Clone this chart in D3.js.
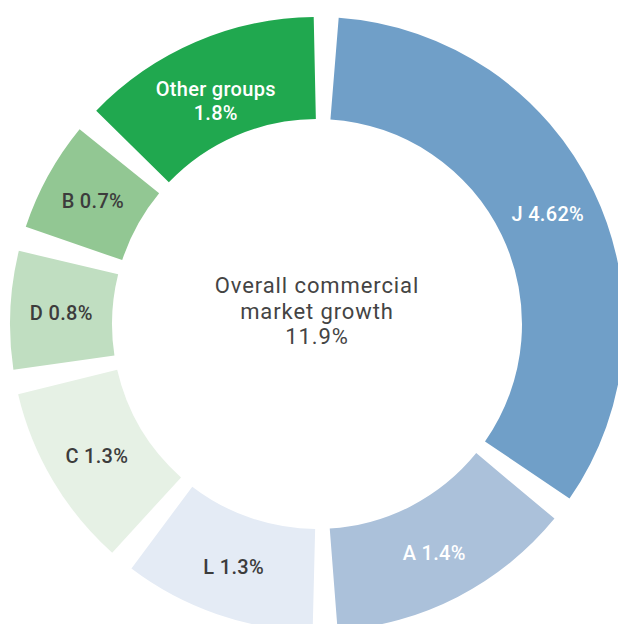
<!DOCTYPE html>
<html>
<head>
<meta charset="utf-8">
<script src="https://cdn.jsdelivr.net/npm/d3@7"></script>
<style>
  body { margin: 0; background: #fff; }
  svg { display: block; font-family: Roboto, "Noto Sans", sans-serif; }
</style>
</head>
<body>
<div id="chart-area"></div>
<script>
var groups = ["J", "A", "L", "C", "D", "B", "Other groups"];
var growth = [4.62, 1.4, 1.3, 1.3, 0.8, 0.7, 1.8];
var shares = [34.8, 14.3, 11.4, 11.0, 7.5, 7.1, 13.9];
var colors = ["#709fc8", "#abc1da", "#e4ebf5", "#e6f1e5", "#c0dec1", "#92c793", "#20a84f"];
var darkText = [false, false, true, true, true, true, false];
var centerLines = ["Overall commercial", "market growth", "11.9%"];

var width = 618, height = 624;
var cx = 317, cy = 324;
var r0 = 205, r1 = 307;
var gapOuter = 12.5, gapInner = 7.3;   // half gap width in px

var svg = d3.select("#chart-area")
    .append("svg")
      .attr("width", width)
      .attr("height", height);

var group = svg.append("g")
    .attr("transform", "translate(" + cx + ", " + cy + ")");

var start = 0.03;
var pie = d3.pie()
    .sort(null)
    .value(function(d, i){ return shares[i]; })
    .startAngle(start)
    .endAngle(start + 2 * Math.PI);

var arcs = pie(groups);

// slice with a gap that widens toward the outside
function slicePath(a) {
  var h = Math.PI / 2;
  var o0 = a.startAngle + gapOuter / r1, o1 = a.endAngle - gapOuter / r1;
  var i0 = a.startAngle + gapInner / r0, i1 = a.endAngle - gapInner / r0;
  var p = d3.path();
  p.arc(0, 0, r1, o0 - h, o1 - h);
  p.lineTo(r0 * Math.cos(i1 - h), r0 * Math.sin(i1 - h));
  p.arc(0, 0, r0, i1 - h, i0 - h, true);
  p.closePath();
  return p.toString();
}

group.selectAll("path.slice")
    .data(arcs)
  .enter()
    .append("path")
    .attr("class", "slice")
    .attr("d", slicePath)
    .attr("fill", function(d, i){ return colors[i]; });

var labelArc = d3.arc().innerRadius(r0).outerRadius(r1);

var labels = group.selectAll("text.label")
    .data(arcs)
  .enter()
    .append("text")
    .attr("class", "label")
    .attr("transform", function(d){ return "translate(" + labelArc.centroid(d) + ")"; })
    .attr("text-anchor", "middle")
    .attr("font-size", "20px")
    .attr("font-weight", 500)
    .attr("letter-spacing", "0.3px")
    .attr("fill", function(d, i){ return darkText[i] ? "#3c3c3c" : "#ffffff"; });

labels.each(function(d, i){
  var t = d3.select(this);
  if (groups[i].length > 1) {
    t.append("tspan").attr("x", 0).attr("dy", "0.38em").text(groups[i]);
    t.append("tspan").attr("x", 0).attr("dy", "1.2em").text(growth[i] + "%");
  } else {
    t.append("tspan").attr("x", 0).attr("dy", "0.4em").text(groups[i] + " " + growth[i] + "%");
  }
});

// center text
group.append("text")
    .attr("text-anchor", "middle")
    .attr("font-size", "22px")
    .attr("letter-spacing", "0.9px")
    .attr("fill", "#444444")
    .selectAll("tspan")
    .data(centerLines)
  .enter()
    .append("tspan")
    .attr("x", 0)
    .attr("y", function(d, i){ return -31 + i * 25.5; })
    .text(function(d){ return d; });
</script>
</body>
</html>
